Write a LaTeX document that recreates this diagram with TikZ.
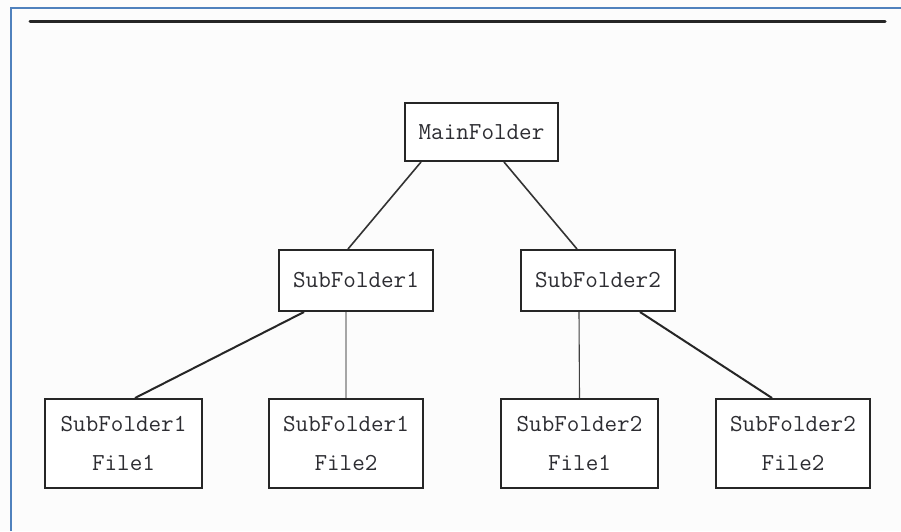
\documentclass[tikz,border=0pt]{standalone}
\usepackage{fontspec}
\definecolor{frameblue}{RGB}{79,129,189}
\definecolor{txt}{RGB}{45,45,50}
\begin{document}
\begin{tikzpicture}[x=1pt,y=-1pt,
  box/.style={draw=black!85,line width=2pt,fill=white,rectangle,inner sep=0pt,
    align=center,text=txt,font=\fontsize{24.4}{39}\selectfont\ttfamily},
  smallbox/.style={box,minimum height=58pt},
  midbox/.style={box,minimum width=154pt,minimum height=61pt},
  leafbox/.style={box,minimum height=89pt},
  link/.style={draw=black!80,line width=1.6pt},
  thinlink/.style={draw=black!75,line width=1.1pt},
  graylink/.style={draw=black!35,line width=2pt},
  boldlink/.style={draw=black!85,line width=2pt}]
\useasboundingbox (0,0) rectangle (901,531);
\fill[white!99!black] (0,0) rectangle (901,531);
\draw[frameblue,line width=2.2pt] (11,531) -- (11,8) -- (901,8);
\draw[black!85,line width=3pt,line cap=round] (30,21.5) -- (885,21.5);

\node[smallbox,minimum width=153pt] (main) at (481.5,132) {MainFolder};
\node[midbox] (s1) at (356,280.5) {SubFolder1};
\node[midbox] (s2) at (598,280.5) {SubFolder2};
\node[leafbox,minimum width=157pt] (f11) at (123.5,443.5) {SubFolder1\\File1};
\node[leafbox,minimum width=154pt] (f12) at (346,443.5) {SubFolder1\\File2};
\node[leafbox,minimum width=157pt] (f21) at (579.5,443.5) {SubFolder2\\File1};
\node[leafbox,minimum width=154pt] (f22) at (793,443.5) {SubFolder2\\File2};

\draw[link] ([xshift=17pt]main.south west) -- ([xshift=-8pt]s1.north);
\draw[link] ([xshift=22.5pt]main.south) -- ([xshift=-21pt]s2.north);
\draw[boldlink] ([xshift=-52pt]s1.south) -- ([xshift=11.5pt]f11.north);
\draw[graylink] ([xshift=-10pt]s1.south) -- (f12.north);
\draw[thinlink] ([xshift=-19pt]s2.south) -- (f21.north);
\draw[boldlink] ([xshift=42pt]s2.south) -- ([xshift=-21pt]f22.north);
\end{tikzpicture}
\end{document}
